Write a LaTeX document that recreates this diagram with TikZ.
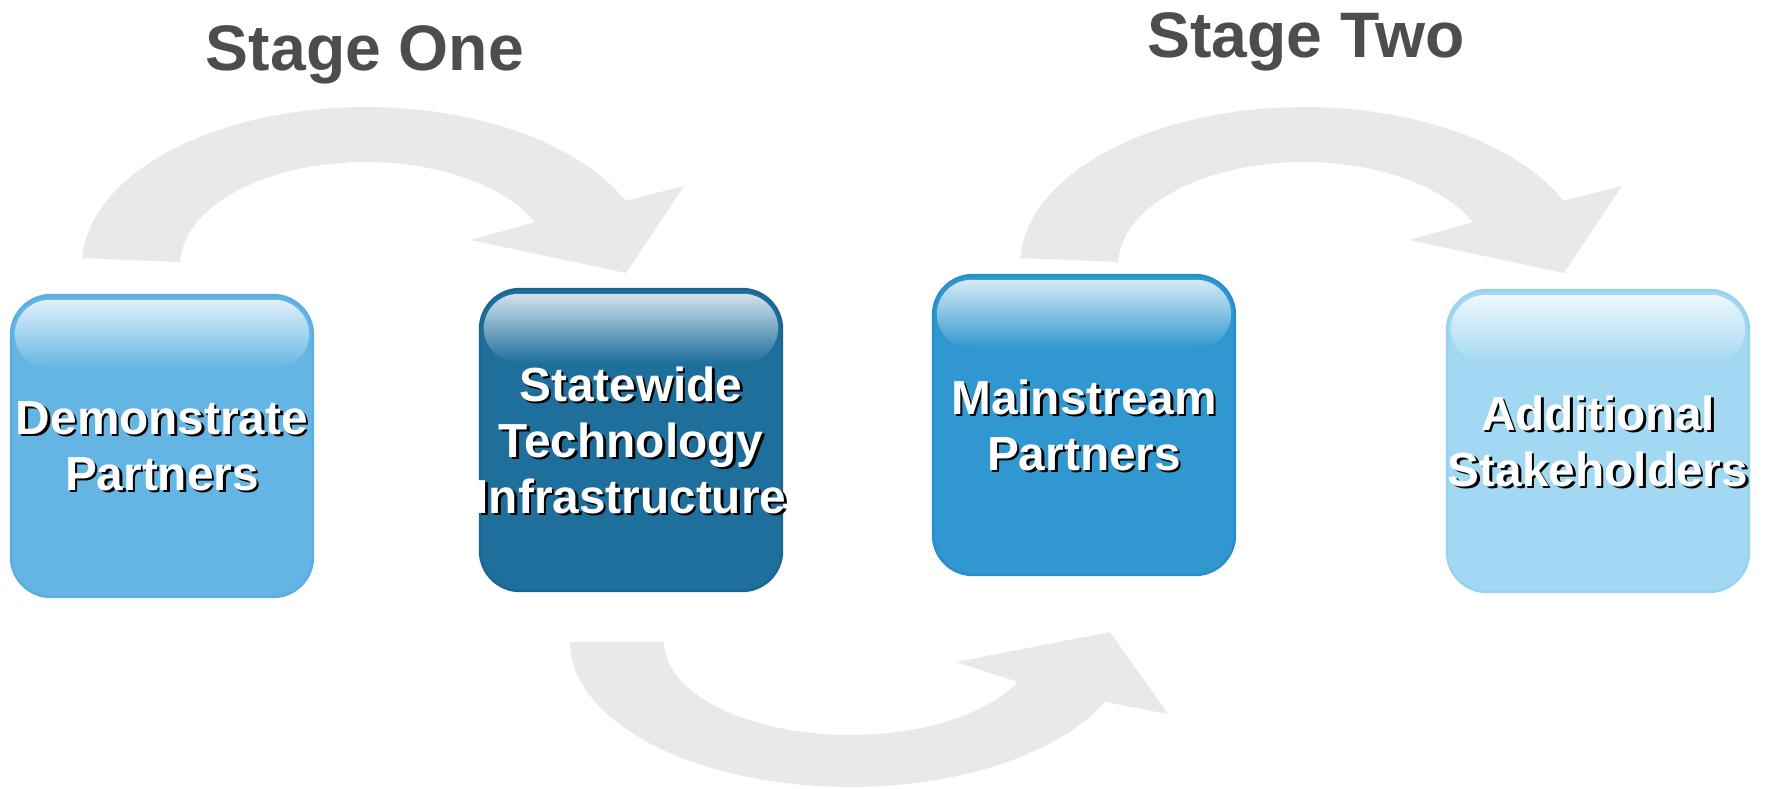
\documentclass[tikz,border=0pt]{standalone}
\usepackage{fontspec}
\setsansfont{Liberation Sans}
\usepackage{tikz}
\usetikzlibrary{backgrounds}
\tikzstyle{every picture}+=[font=\sffamily]

\definecolor{flowgrey}{HTML}{E9E9E9}
\definecolor{stagegrey}{HTML}{4D4D4D}
\definecolor{tileA}{HTML}{64B5E4}
\definecolor{tileB}{HTML}{1F6F9C}
\definecolor{tileC}{HTML}{3197D0}
\definecolor{tileD}{HTML}{A3D8F2}
\definecolor{lineA}{HTML}{5AAEE0}
\definecolor{lineB}{HTML}{1A6592}
\definecolor{lineC}{HTML}{2A8FC8}
\definecolor{lineD}{HTML}{97D2F0}

\begin{document}
\begin{tikzpicture}
		[x=0.02cm, y=-0.02cm, inner sep=0pt,
		stage/.style	= {text=stagegrey, anchor=base, font=\sffamily\bfseries\fontsize{36.6pt}{42pt}\selectfont},
		tile/.style		= {draw, rectangle, rounded corners=0.8cm, line width=0.05cm, minimum width=6.04cm, minimum height=6.04cm},
		gloss/.style	= {rounded corners=0.7cm},
		caption/.style	= {text=white, align=center, font=\sffamily\bfseries\fontsize{27.2pt}{31.9pt}\selectfont},
		flow/.style		= {fill=flowgrey}]
		
		\path[use as bounding box, fill=white] (0,0) rectangle (1767,788);
		
		% centres of the bent arrows
		\coordinate (c1) at (366,265);
		\coordinate (c2) at (1304,265);
		\coordinate (c3) at (850,642);
		
		\foreach \c in {c1,c2}
			\fill[flow, shift={(\c)}]
				plot[domain=177.5:24, samples=40] ({284*cos(\x)},{-158*sin(\x)})
				-- (318,-79) -- (260,8) -- (105,-25)
				-- plot[domain=24.6:178.3, samples=40] ({186*cos(\x)},{-103*sin(\x)}) -- cycle;
		
		\fill[flow, shift={(c3)}]
			plot[domain=180:24.4, samples=40] ({280*cos(\x)},{145*sin(\x)})
			-- (318,72) -- (260,-10) -- (106,20)
			-- plot[domain=25.4:180, samples=40] ({186*cos(\x)},{93*sin(\x)}) -- cycle;
		
		\node [stage] at (365,70)	(one)	{Stage One};
		\node [stage] at (1306,57)	(two)	{Stage Two};
		
		\node [tile, fill=tileA, draw=lineA] at (162,446)	(1) {};
		\node [tile, fill=tileB, draw=lineB] at (631,440)	(2) {};
		\node [tile, fill=tileC, draw=lineC, minimum height=6cm] at (1084,425) (3) {};
		\node [tile, fill=tileD, draw=lineD] at (1598,441)	(4) {};
		
		% glossy tops
		\shade[gloss, top color=tileA!20!white, bottom color=tileA] ([shift={(5,6)}]1.north west) rectangle ([shift={(-5,75)}]1.north east);
		\shade[gloss, top color=tileB!20!white, bottom color=tileB] ([shift={(5,6)}]2.north west) rectangle ([shift={(-5,75)}]2.north east);
		\shade[gloss, top color=tileC!20!white, bottom color=tileC] ([shift={(5,6)}]3.north west) rectangle ([shift={(-5,75)}]3.north east);
		\shade[gloss, top color=tileD!20!white, bottom color=tileD] ([shift={(5,6)}]4.north west) rectangle ([shift={(-5,75)}]4.north east);
		
		% labels, dark copy first as the drop shadow
		\node [caption, text=black] at ([shift={(2.5,2.5)}]1) (1s) {Demonstrate\\Partners};
		\node [caption]				at (1)	(1t) {Demonstrate\\Partners};
		\node [caption, text=black] at ([shift={(2.5,2.5)}]2) (2s) {Statewide\\Technology\\Infrastructure};
		\node [caption]				at (2)	(2t) {Statewide\\Technology\\Infrastructure};
		\node [caption, text=black] at ([shift={(2.5,2.5)}]3) (3s) {Mainstream\\Partners};
		\node [caption]				at (3)	(3t) {Mainstream\\Partners};
		\node [caption, text=black] at ([shift={(2.5,2.5)}]4) (4s) {Additional\\Stakeholders};
		\node [caption]				at (4)	(4t) {Additional\\Stakeholders};
		\end{tikzpicture}
\end{document}
